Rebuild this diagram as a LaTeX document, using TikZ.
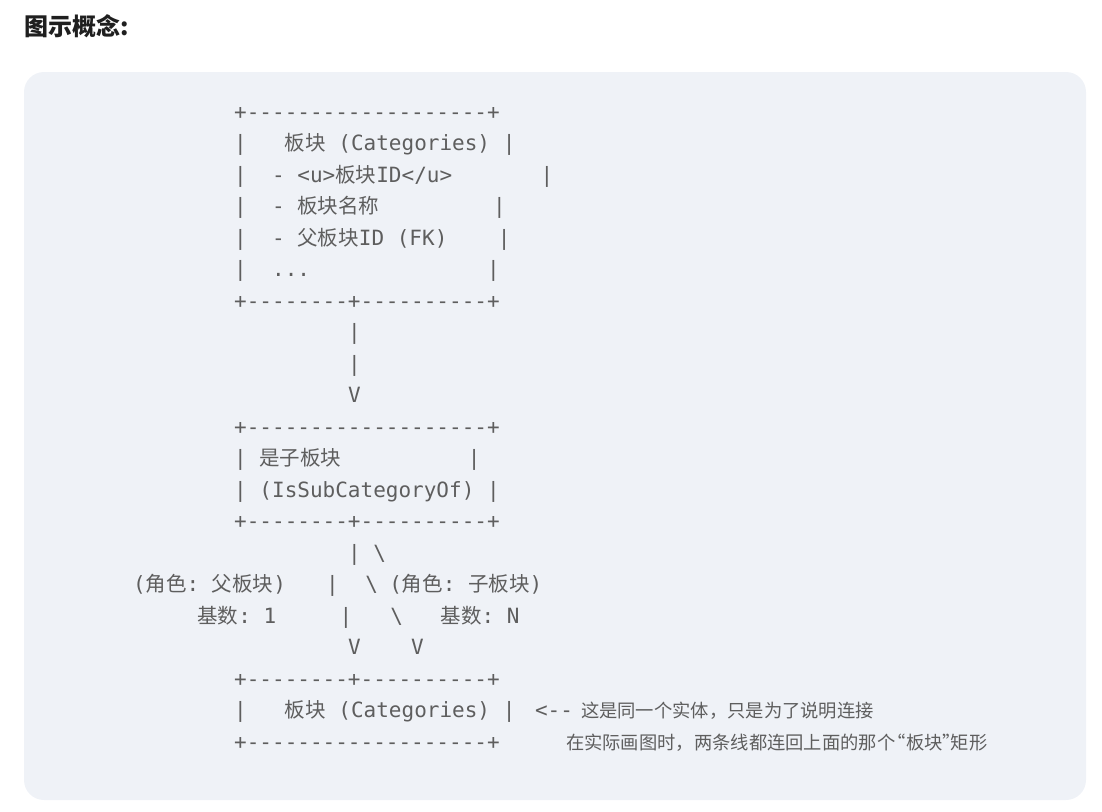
\documentclass[tikz,border=0pt]{standalone}
\usepackage{fontspec}
\setmonofont{DejaVu Sans Mono}
\newfontfamily\cjkfont{Noto Sans CJK SC}
\definecolor{codebg}{HTML}{EFF2F7}
\definecolor{codefg}{HTML}{5E5E5E}
\definecolor{titlefg}{HTML}{1F1F1F}
\newcommand\zh[1]{{\cjkfont\fontsize{20.5pt}{20.5pt}\selectfont #1}}
\newcommand\bsl{\textbackslash}
\newcommand\myopenq{\makebox[10.8pt][r]{“}}
\newcommand\mycloseq{\makebox[8pt][l]{”}}
\begin{document}
\begin{tikzpicture}[x=1pt,y=-1pt,
  code/.style={anchor=base west, inner sep=0pt, outer sep=0pt, text=codefg,
    font=\ttfamily\fontsize{21pt}{21pt}\selectfont},
  note/.style={anchor=base west, inner sep=0pt, outer sep=0pt, text=codefg,
    font=\cjkfont\fontsize{18.3pt}{18.3pt}\selectfont},
  titletext/.style={anchor=base west, inner sep=0pt, outer sep=0pt, text=titlefg,
    font=\cjkfont\bfseries\fontsize{24pt}{24pt}\selectfont}]
\useasboundingbox (0,0) rectangle (1102,811);
\fill[codebg, rounded corners=20pt] (24,72) rectangle (1086,800);
\node[titletext] (title) at (24,35) {图示概念:};
% top entity box
\node[code] (r1) at (234.2,119.3) {+-------------------+};
\node[code] (r2) at (234.2,150.8) {|~~~\zh{板块}~(Categories)~|};
\node[code] (r3) at (234.2,182.3) {|~~-~<u>\zh{板块}ID</u>~~~~~~~|};
\node[code] (r4) at (234.2,213.8) {|~~-~\zh{板块名称}~~~~~~~~~|};
\node[code] (r5) at (234.2,245.3) {|~~-~\zh{父板块}ID~(FK)~~~~|};
\node[code] (r6) at (234.2,276.8) {|~~...~~~~~~~~~~~~~~|};
\node[code] (r7) at (234.2,308.3) {+--------+----------+};
% arrow down
\node[code] (r8) at (348.0,339.8) {|};
\node[code] (r9) at (348.0,371.3) {|};
\node[code] (r10) at (348.0,402.8) {V};
% relationship box
\node[code] (r11) at (234.2,434.3) {+-------------------+};
\node[code] (r12) at (234.2,465.8) {|~\zh{是子板块}~~~~~~~~~~|};
\node[code] (r13) at (234.2,497.3) {|~(IsSubCategoryOf)~|};
\node[code] (r14) at (234.2,528.8) {+--------+----------+};
% two branches
\node[code] (r15) at (348.0,560.3) {|~\bsl};
\node[code] (r16a) at (133.0,591.8) {(\zh{角色}:~\zh{父板块})};
\node[code] (r16b) at (326.0,591.8) {|};
\node[code] (r16c) at (365.4,591.8) {\bsl};
\node[code] (r16d) at (389.3,591.8) {(\zh{角色}:~\zh{子板块})};
\node[code] (r17a) at (197.3,623.3) {\zh{基数}:~1};
\node[code] (r17b) at (339.7,623.3) {|};
\node[code] (r17c) at (390.4,623.3) {\bsl};
\node[code] (r17d) at (440.7,623.3) {\zh{基数}:~N};
\node[code] (r18) at (348.0,654.8) {V~~~~V};
% bottom entity box
\node[code] (r19) at (234.2,686.3) {+--------+----------+};
\node[code] (r20) at (234.2,717.8) {|~~~\zh{板块}~(Categories)~|};
\node[code] (r20b) at (535.0,717.8) {<--};
\node[note] (n1) at (581.0,717.8) {这是同一个实体，只是为了说明连接};
\node[code] (r21) at (234.2,749.3) {+-------------------+};
\node[note] (n2) at (566.0,749.3) {在实际画图时，两条线都连回上面的那个\myopenq 板块\mycloseq 矩形};
\end{tikzpicture}
\end{document}
